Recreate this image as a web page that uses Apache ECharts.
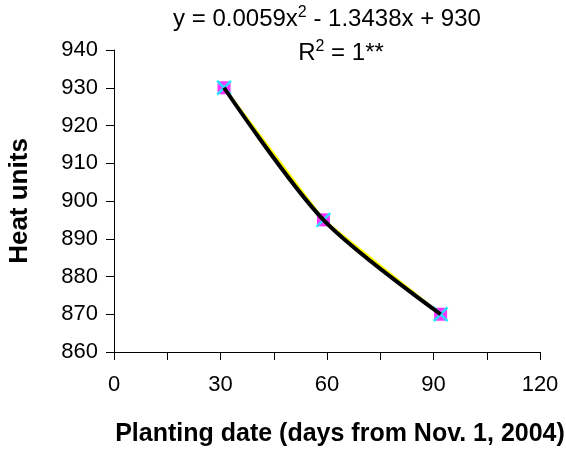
<!DOCTYPE html>
<html><head><meta charset="utf-8">
<script src="https://cdn.jsdelivr.net/npm/echarts@6/dist/echarts.min.js"></script>
<style>html,body{margin:0;padding:0;background:#fff}#c{width:566px;height:452px}</style>
</head><body><div id="c"></div>
<script>
const days = [31, 59, 92];
const heatUnits = [930, 895, 870];
const xTicks = [0, 30, 60, 90, 120];
const yTicks = [860, 870, 880, 890, 900, 910, 920, 930, 940];
const equationText = 'y = 0.0059x{sup|2} - 1.3438x + 930';
const r2Text = 'R{sup|2} = 1**';

const pts = days.map((d, i) => [d, heatUnits[i]]);
const F = '"Liberation Sans", Arial, sans-serif';
const chart = echarts.init(document.getElementById('c'));
chart.setOption({
  animation: false,
  backgroundColor: '#fff',
  grid: {left: 114, right: 26, top: 50, bottom: 100, containLabel: false, outerBoundsMode: 'none'},
  xAxis: {
    type: 'value', min: xTicks[0], max: xTicks[xTicks.length - 1], interval: 15,
    axisLine: {onZero: false, lineStyle: {color: '#000', width: 1}},
    axisTick: {show: true, inside: false, length: 8, lineStyle: {color: '#000'}},
    splitLine: {show: false},
    axisLabel: {color: '#000', fontFamily: F, fontSize: 22, margin: 22,
      formatter: v => xTicks.includes(v) ? String(v) : ''},
    name: 'Planting date (days from Nov. 1, 2004)', nameLocation: 'middle', nameGap: 70,
    nameTextStyle: {color: '#000', fontFamily: F, fontSize: 25, fontWeight: 'bold', padding: [0, 0, 0, 26]}
  },
  yAxis: {
    type: 'value', min: yTicks[0], max: yTicks[yTicks.length - 1], interval: 10,
    axisLine: {show: true, lineStyle: {color: '#000', width: 1}},
    axisTick: {show: true, inside: false, length: 8, lineStyle: {color: '#000'}},
    splitLine: {show: false},
    axisLabel: {color: '#000', fontFamily: F, fontSize: 22, margin: 16},
    name: 'Heat units', nameLocation: 'middle', nameGap: 81,
    nameTextStyle: {color: '#000', fontFamily: F, fontSize: 26, fontWeight: 'bold'}
  },
  graphic: [
    {type: 'text', silent: true, x: 327, y: 19, z: 10,
     style: {text: equationText, align: 'center', verticalAlign: 'middle',
       font: '24px ' + F, fill: '#000',
       rich: {sup: {fontSize: 16, fontFamily: F, padding: [0, 0, 12, 0]}}}},
    {type: 'text', silent: true, x: 341, y: 53, z: 10,
     style: {text: r2Text, align: 'center', verticalAlign: 'middle',
       font: '24px ' + F, fill: '#000',
       rich: {sup: {fontSize: 16, fontFamily: F, padding: [0, 0, 12, 0]}}}}
  ],
  series: [
    {type: 'line', data: pts, symbol: 'none', lineStyle: {color: '#ffff00', width: 2.5}, z: 2},
    {type: 'line', data: pts, smooth: 0.3, symbol: 'none', lineStyle: {color: '#000', width: 4}, z: 4},
    {type: 'scatter', data: pts, symbol: 'rect', symbolSize: 13, itemStyle: {color: '#ff00ff'}, z: 3},
    {type: 'scatter', data: pts, symbol: 'path://M0,0L10,10M10,0L0,10', symbolSize: 14,
     itemStyle: {color: 'none', borderColor: '#00ffff', borderWidth: 2.5}, z: 3}
  ]
});
</script></body></html>
